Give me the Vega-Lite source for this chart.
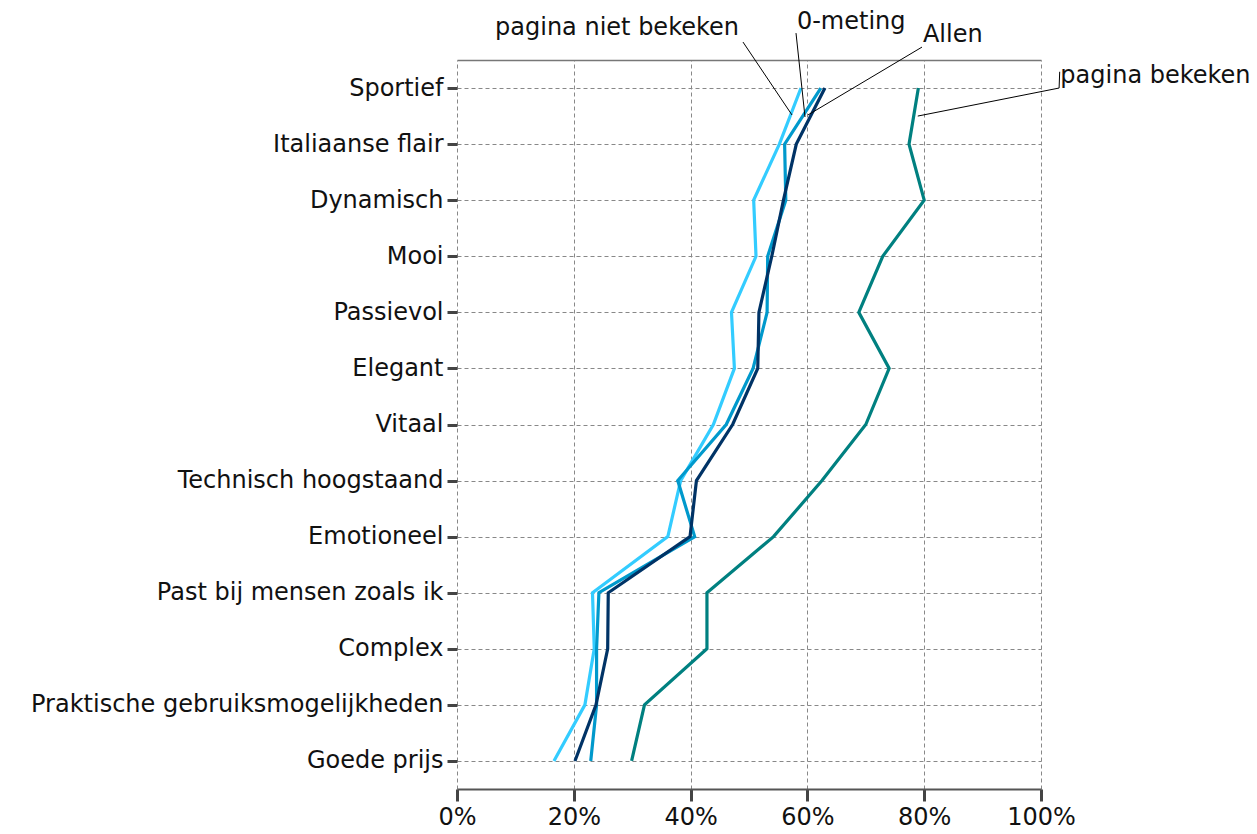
{
  "$schema": "https://vega.github.io/schema/vega-lite/v6.json",
  "width": 584,
  "height": 729,
  "autosize": "none",
  "padding": {"left": 457, "top": 60, "right": 216, "bottom": 45},
  "background": "white",
  "config": {"view": {"stroke": null}, "font": "DejaVu Sans"},
  "datasets": {
    "waarden": [
      {"kenmerk": "Sportief", "groep": "pagina niet bekeken", "percentage": 58.9},
      {"kenmerk": "Sportief", "groep": "0-meting", "percentage": 62.3},
      {"kenmerk": "Sportief", "groep": "Allen", "percentage": 63.0},
      {"kenmerk": "Sportief", "groep": "pagina bekeken", "percentage": 79.0},
      {"kenmerk": "Italiaanse flair", "groep": "pagina niet bekeken", "percentage": 55.2},
      {"kenmerk": "Italiaanse flair", "groep": "0-meting", "percentage": 56.1},
      {"kenmerk": "Italiaanse flair", "groep": "Allen", "percentage": 58.1},
      {"kenmerk": "Italiaanse flair", "groep": "pagina bekeken", "percentage": 77.4},
      {"kenmerk": "Dynamisch", "groep": "pagina niet bekeken", "percentage": 50.8},
      {"kenmerk": "Dynamisch", "groep": "0-meting", "percentage": 56.3},
      {"kenmerk": "Dynamisch", "groep": "Allen", "percentage": 55.9},
      {"kenmerk": "Dynamisch", "groep": "pagina bekeken", "percentage": 80.0},
      {"kenmerk": "Mooi", "groep": "pagina niet bekeken", "percentage": 51.2},
      {"kenmerk": "Mooi", "groep": "0-meting", "percentage": 53.2},
      {"kenmerk": "Mooi", "groep": "Allen", "percentage": 53.9},
      {"kenmerk": "Mooi", "groep": "pagina bekeken", "percentage": 72.9},
      {"kenmerk": "Passievol", "groep": "pagina niet bekeken", "percentage": 47.0},
      {"kenmerk": "Passievol", "groep": "0-meting", "percentage": 53.1},
      {"kenmerk": "Passievol", "groep": "Allen", "percentage": 51.7},
      {"kenmerk": "Passievol", "groep": "pagina bekeken", "percentage": 68.8},
      {"kenmerk": "Elegant", "groep": "pagina niet bekeken", "percentage": 47.5},
      {"kenmerk": "Elegant", "groep": "0-meting", "percentage": 50.7},
      {"kenmerk": "Elegant", "groep": "Allen", "percentage": 51.5},
      {"kenmerk": "Elegant", "groep": "pagina bekeken", "percentage": 74.0},
      {"kenmerk": "Vitaal", "groep": "pagina niet bekeken", "percentage": 43.9},
      {"kenmerk": "Vitaal", "groep": "0-meting", "percentage": 46.1},
      {"kenmerk": "Vitaal", "groep": "Allen", "percentage": 47.2},
      {"kenmerk": "Vitaal", "groep": "pagina bekeken", "percentage": 70.0},
      {"kenmerk": "Technisch hoogstaand", "groep": "pagina niet bekeken", "percentage": 38.3},
      {"kenmerk": "Technisch hoogstaand", "groep": "0-meting", "percentage": 37.8},
      {"kenmerk": "Technisch hoogstaand", "groep": "Allen", "percentage": 41.0},
      {"kenmerk": "Technisch hoogstaand", "groep": "pagina bekeken", "percentage": 62.5},
      {"kenmerk": "Emotioneel", "groep": "pagina niet bekeken", "percentage": 36.1},
      {"kenmerk": "Emotioneel", "groep": "0-meting", "percentage": 40.7},
      {"kenmerk": "Emotioneel", "groep": "Allen", "percentage": 39.9},
      {"kenmerk": "Emotioneel", "groep": "pagina bekeken", "percentage": 54.2},
      {"kenmerk": "Past bij mensen zoals ik", "groep": "pagina niet bekeken", "percentage": 23.2},
      {"kenmerk": "Past bij mensen zoals ik", "groep": "0-meting", "percentage": 24.3},
      {"kenmerk": "Past bij mensen zoals ik", "groep": "Allen", "percentage": 25.9},
      {"kenmerk": "Past bij mensen zoals ik", "groep": "pagina bekeken", "percentage": 42.8},
      {"kenmerk": "Complex", "groep": "pagina niet bekeken", "percentage": 23.5},
      {"kenmerk": "Complex", "groep": "0-meting", "percentage": 23.9},
      {"kenmerk": "Complex", "groep": "Allen", "percentage": 25.8},
      {"kenmerk": "Complex", "groep": "pagina bekeken", "percentage": 42.8},
      {"kenmerk": "Praktische gebruiksmogelijkheden", "groep": "pagina niet bekeken", "percentage": 21.9},
      {"kenmerk": "Praktische gebruiksmogelijkheden", "groep": "0-meting", "percentage": 23.9},
      {"kenmerk": "Praktische gebruiksmogelijkheden", "groep": "Allen", "percentage": 23.8},
      {"kenmerk": "Praktische gebruiksmogelijkheden", "groep": "pagina bekeken", "percentage": 32.1},
      {"kenmerk": "Goede prijs", "groep": "pagina niet bekeken", "percentage": 16.6},
      {"kenmerk": "Goede prijs", "groep": "0-meting", "percentage": 22.9},
      {"kenmerk": "Goede prijs", "groep": "Allen", "percentage": 20.2},
      {"kenmerk": "Goede prijs", "groep": "pagina bekeken", "percentage": 29.9}
    ],
    "verwijzers": [
      {"groep": "pagina niet bekeken", "x1": 48.97, "y1": -0.82, "x2": 57.36, "y2": 0.48},
      {"groep": "0-meting", "x1": 58.05, "y1": -0.98, "x2": 59.59, "y2": 0.516},
      {"groep": "Allen", "x1": 79.62, "y1": -0.73, "x2": 60.1, "y2": 0.48},
      {"groep": "pagina bekeken", "x1": 78.9, "y1": 0.5, "x2": 103.1, "y2": 0.0},
      {"groep": "pagina bekeken", "x1": 103.1, "y1": 0.0, "x2": 103.2, "y2": -0.29}
    ],
    "labels": [
      {"label": "pagina niet bekeken", "x": 27.4, "y": -0.946},
      {"label": "0-meting", "x": 67.5, "y": -1.047},
      {"label": "Allen", "x": 84.9, "y": -0.826},
      {"label": "pagina bekeken", "x": 119.6, "y": -0.085}
    ]
  },
  "layer": [
    {
      "data": {"name": "waarden"},
      "mark": {"type": "line", "strokeWidth": 3.2},
      "encoding": {
        "y": {
          "field": "kenmerk",
          "type": "nominal",
          "sort": ["Sportief", "Italiaanse flair", "Dynamisch", "Mooi", "Passievol", "Elegant", "Vitaal", "Technisch hoogstaand", "Emotioneel", "Past bij mensen zoals ik", "Complex", "Praktische gebruiksmogelijkheden", "Goede prijs"],
          "scale": {"padding": 0.5},
          "axis": {
            "title": null,
            "domain": false,
            "ticks": true,
            "tickSize": 10,
            "tickWidth": 3,
            "tickColor": "#444444",
            "labelPadding": 4,
            "labelFontSize": 24,
            "labelFont": "DejaVu Sans",
            "labelColor": "#111111",
            "labelLimit": 0,
            "grid": true,
            "gridDash": [4, 3],
            "gridColor": "#888888",
            "gridWidth": 1
          }
        },
        "x": {
          "field": "percentage",
          "type": "quantitative",
          "scale": {"domain": [0, 100], "nice": false},
          "axis": {
            "title": null,
            "orient": "bottom",
            "values": [0, 20, 40, 60, 80, 100],
            "labelExpr": "datum.value + '%'",
            "labelFlush": false,
            "labelOverlap": false,
            "domain": true,
            "domainColor": "#555555",
            "domainWidth": 2,
            "ticks": true,
            "tickSize": 12,
            "tickWidth": 3,
            "tickColor": "#444444",
            "labelPadding": 4,
            "labelFontSize": 24,
            "labelFont": "DejaVu Sans",
            "labelColor": "#111111",
            "grid": true,
            "gridDash": [4, 3],
            "gridColor": "#888888",
            "gridWidth": 1
          }
        },
        "color": {
          "field": "groep",
          "type": "nominal",
          "scale": {
            "domain": ["pagina bekeken", "pagina niet bekeken", "0-meting", "Allen"],
            "range": ["#008080", "#33CCFF", "#0099CC", "#003366"]
          },
          "legend": null
        }
      }
    },
    {
      "data": {"name": "verwijzers"},
      "mark": {"type": "rule", "color": "#000000", "strokeWidth": 1},
      "encoding": {
        "x": {
          "field": "x1",
          "type": "quantitative",
          "scale": {"domain": [0, 100], "nice": false},
          "axis": {"orient": "top", "title": null, "labels": false, "ticks": false, "grid": false, "domain": true, "domainColor": "#777777", "domainWidth": 1.5}
        },
        "x2": {"field": "x2"},
        "y": {
          "field": "y1",
          "type": "quantitative",
          "scale": {"domain": [-0.5, 12.5], "reverse": true, "nice": false, "zero": false},
          "axis": null
        },
        "y2": {"field": "y2"}
      }
    },
    {
      "data": {"name": "labels"},
      "mark": {"type": "text", "fontSize": 24, "font": "DejaVu Sans", "color": "#111111", "align": "center", "baseline": "alphabetic"},
      "encoding": {
        "x": {"field": "x", "type": "quantitative", "scale": {"domain": [0, 100], "nice": false}, "axis": null},
        "y": {"field": "y", "type": "quantitative", "scale": {"domain": [-0.5, 12.5], "reverse": true, "nice": false, "zero": false}, "axis": null},
        "text": {"field": "label", "type": "nominal"}
      }
    }
  ],
  "resolve": {"scale": {"y": "independent"}, "axis": {"x": "independent", "y": "independent"}}
}
